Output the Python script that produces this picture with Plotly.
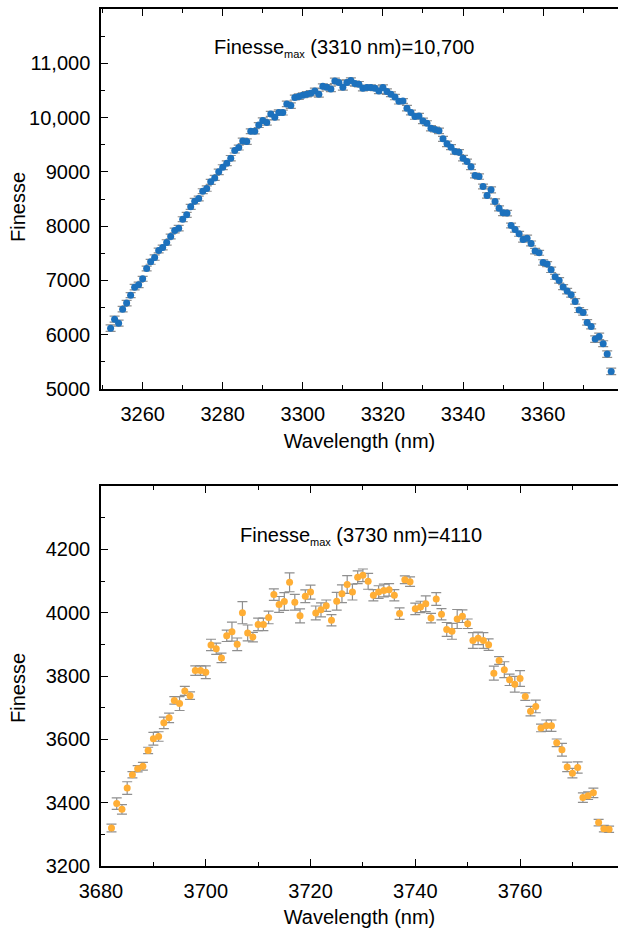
import plotly.graph_objects as go

# ---------------- data: top panel (3.3 µm) ----------------
wl_top = list(range(3252, 3378))
fin_top = [6121, 6287, 6213, 6471, 6582, 6729, 6876, 6919, 7030, 7220,
           7343, 7422, 7551, 7607, 7699, 7809, 7920, 7963, 8128, 8208,
           8355, 8460, 8509, 8644, 8693, 8816, 8889, 9000, 9086, 9159,
           9251, 9392, 9448, 9570, 9558, 9748, 9748, 9862, 9945, 9910,
           10068, 10007, 10092, 10092, 10252, 10221, 10369, 10387, 10412, 10430,
           10448, 10491, 10430, 10577, 10559, 10528, 10675, 10645, 10559, 10645,
           10682, 10626, 10614, 10540, 10553, 10553, 10540, 10491, 10553, 10479,
           10430, 10378, 10300, 10305, 10173, 10093, 10019, 10031, 9939, 9896,
           9804, 9780, 9755, 9608, 9516, 9455, 9375, 9363, 9252, 9191,
           9092, 8933, 8914, 8730, 8565, 8669, 8454, 8328, 8245, 8240,
           8012, 7939, 7859, 7755, 7779, 7681, 7540, 7509, 7331, 7301,
           7196, 7067, 7000, 6877, 6803, 6736, 6613, 6454, 6411, 6227,
           6153, 5920, 5969, 5834, 5644, 5324]
err_top = [60, 55, 55, 50, 50, 45, 50, 50, 45, 45,
           45, 50, 45, 45, 50, 45, 45, 50, 45, 45,
           45, 50, 45, 45, 50, 45, 45, 50, 45, 45,
           50, 45, 45, 50, 50, 45, 50, 45, 50, 50,
           45, 50, 50, 45, 50, 50, 45, 50, 45, 50,
           50, 50, 55, 45, 50, 50, 50, 45, 55, 50,
           50, 45, 50, 50, 45, 50, 45, 50, 50, 50,
           45, 50, 50, 45, 50, 45, 50, 45, 50, 45,
           50, 45, 50, 45, 50, 45, 50, 45, 50, 45,
           50, 45, 50, 45, 50, 55, 50, 45, 50, 50,
           45, 50, 45, 50, 55, 45, 50, 45, 50, 45,
           50, 45, 50, 45, 50, 45, 50, 45, 50, 50,
           45, 60, 60, 55, 60, 60]

# ---------------- data: bottom panel (3.7 µm) ----------------
wl_bot = list(range(3682, 3778))
fin_bot = [3320, 3397, 3379, 3446, 3488, 3507, 3515, 3565, 3602, 3609,
           3652, 3668, 3723, 3713, 3753, 3738, 3817, 3817, 3812, 3898,
           3886, 3857, 3927, 3940, 3900, 4000, 3936, 3923, 3963, 3963,
           3985, 4057, 4026, 4035, 4096, 4033, 3990, 4052, 4065, 3999,
           4009, 4022, 3976, 4036, 4060, 4089, 4065, 4112, 4118, 4099,
           4055, 4065, 4070, 4072, 4055, 3997, 4104, 4098, 4012, 4018,
           4028, 3983, 4043, 3995, 3947, 3941, 3980, 3989, 3965, 3912,
           3919, 3912, 3899, 3809, 3849, 3820, 3788, 3774, 3792, 3735,
           3689, 3704, 3636, 3643, 3643, 3589, 3567, 3513, 3493, 3511,
           3416, 3422, 3431, 3337, 3318, 3316]
err_bot = [12, 18, 15, 20, 10, 10, 12, 10, 20, 15,
           18, 15, 12, 22, 14, 12, 15, 15, 20, 18,
           18, 15, 18, 30, 20, 35, 25, 15, 20, 20,
           20, 18, 25, 28, 30, 25, 22, 20, 22, 22,
           22, 18, 18, 28, 28, 28, 25, 20, 20, 25,
           18, 20, 20, 20, 18, 18, 12, 15, 18, 18,
           25, 15, 20, 18, 22, 25, 30, 20, 15, 25,
           20, 25, 18, 22, 12, 25, 18, 25, 25, 12,
           15, 20, 12, 18, 18, 12, 20, 15, 15, 18,
           15, 12, 15, 10, 10, 10]

top_yticks = [5000, 6000, 7000, 8000, 9000, 10000, 11000]
top_ytext = ["5000", "6000", "7000", "8000", "9000", "10,000", "11,000"]
top_xticks = [3260, 3280, 3300, 3320, 3340, 3360]
bot_yticks = [3200, 3400, 3600, 3800, 4000, 4200]
bot_xticks = [3680, 3700, 3720, 3740, 3760]

FONT = "Liberation Sans, Arial, Helvetica, sans-serif"
ERRC = "#8f8f8f"

fig = go.Figure()
fig.add_trace(go.Scatter(
    x=wl_top, y=fin_top, mode="markers", xaxis="x", yaxis="y",
    marker=dict(color="#1c71bd", size=7),
    error_y=dict(type="data", array=err_top, color=ERRC, thickness=1.2, width=5),
    showlegend=False))
fig.add_trace(go.Scatter(
    x=wl_bot, y=fin_bot, mode="markers", xaxis="x2", yaxis="y2",
    marker=dict(color="#ffae35", size=7),
    error_y=dict(type="data", array=err_bot, color=ERRC, thickness=1.2, width=5),
    showlegend=False))

ax_common = dict(showline=True, linecolor="black", linewidth=1.5,
                 ticks="inside", ticklen=7, tickwidth=1.3, tickcolor="black",
                 showgrid=False, zeroline=False, automargin=False,
                 tickfont=dict(family=FONT, size=20, color="black"))

top_dom = [0.5566, 1.0]
bot_dom = [0.0, 0.4434]

ytitle = dict(text="Finesse", xref="paper", yref="paper", x=-0.1605, showarrow=False,
              textangle=-90, font=dict(family=FONT, size=20, color="black"),
              xanchor="center", yanchor="middle")

fig.update_layout(
    width=618, height=928,
    margin=dict(l=101, r=0, t=9, b=62),
    paper_bgcolor="white", plot_bgcolor="white",
    font=dict(family=FONT, size=20, color="black"),
    xaxis=dict(**ax_common, domain=[0, 1], anchor="y", range=[3249.6, 3378.7],
               tickvals=top_xticks, mirror="ticks", ticklabelstandoff=6,
               minor=dict(ticks="inside", ticklen=4, tickwidth=1.2, dtick=10, tick0=3250, tickcolor="black"),
               title=dict(text="Wavelength (nm)", font=dict(family=FONT, size=20), standoff=10)),
    yaxis=dict(**ax_common, domain=top_dom, anchor="x", range=[5000, 12000],
               tickvals=top_yticks, ticktext=top_ytext, ticklabelstandoff=5,
               minor=dict(ticks="inside", ticklen=4, tickwidth=1.2, dtick=500, tick0=5000, tickcolor="black")),
    yaxis3=dict(overlaying="y", side="right", anchor="x", range=[5000, 12000], automargin=False,
                showline=False, showgrid=False, zeroline=False, showticklabels=False,
                ticks="inside", ticklen=7, tickwidth=1.3, tickcolor="black", tickvals=top_yticks,
                minor=dict(ticks="inside", ticklen=4, tickwidth=1.2, dtick=500, tick0=5000, tickcolor="black")),
    xaxis2=dict(**ax_common, domain=[0, 1], anchor="y2", range=[3680, 3778.7],
                tickvals=bot_xticks, mirror="ticks", ticklabelstandoff=6,
                minor=dict(ticks="inside", ticklen=4, tickwidth=1.2, dtick=10, tick0=3680, tickcolor="black"),
                title=dict(text="Wavelength (nm)", font=dict(family=FONT, size=20), standoff=10)),
    yaxis2=dict(**ax_common, domain=bot_dom, anchor="x2", range=[3200, 4400],
                tickvals=bot_yticks, ticklabelstandoff=5,
                minor=dict(ticks="inside", ticklen=4, tickwidth=1.2, dtick=100, tick0=3200, tickcolor="black")),
    yaxis4=dict(overlaying="y2", side="right", anchor="x2", range=[3200, 4400], automargin=False,
                showline=False, showgrid=False, zeroline=False, showticklabels=False,
                ticks="inside", ticklen=7, tickwidth=1.3, tickcolor="black", tickvals=bot_yticks,
                minor=dict(ticks="inside", ticklen=4, tickwidth=1.2, dtick=100, tick0=3200, tickcolor="black")),
    annotations=[
        dict(ytitle, y=0.769),
        dict(ytitle, y=0.2077),
        dict(text="Finesse<sub><span style='font-size:11px'>max</span></sub> (3310 nm)=10,700",
             xref="paper", yref="paper", x=0.470, y=0.9545, showarrow=False,
             font=dict(family=FONT, size=20, color="black"), xanchor="center", yanchor="middle"),
        dict(text="Finesse<sub><span style='font-size:11px'>max</span></sub> (3730 nm)=4110",
             xref="paper", yref="paper", x=0.503, y=0.385, showarrow=False,
             font=dict(family=FONT, size=20, color="black"), xanchor="center", yanchor="middle"),
    ],
)

fig.write_html("out.html", config={"displayModeBar": False},
               post_script="document.body.style.margin='0px';document.body.style.overflow='hidden';")
